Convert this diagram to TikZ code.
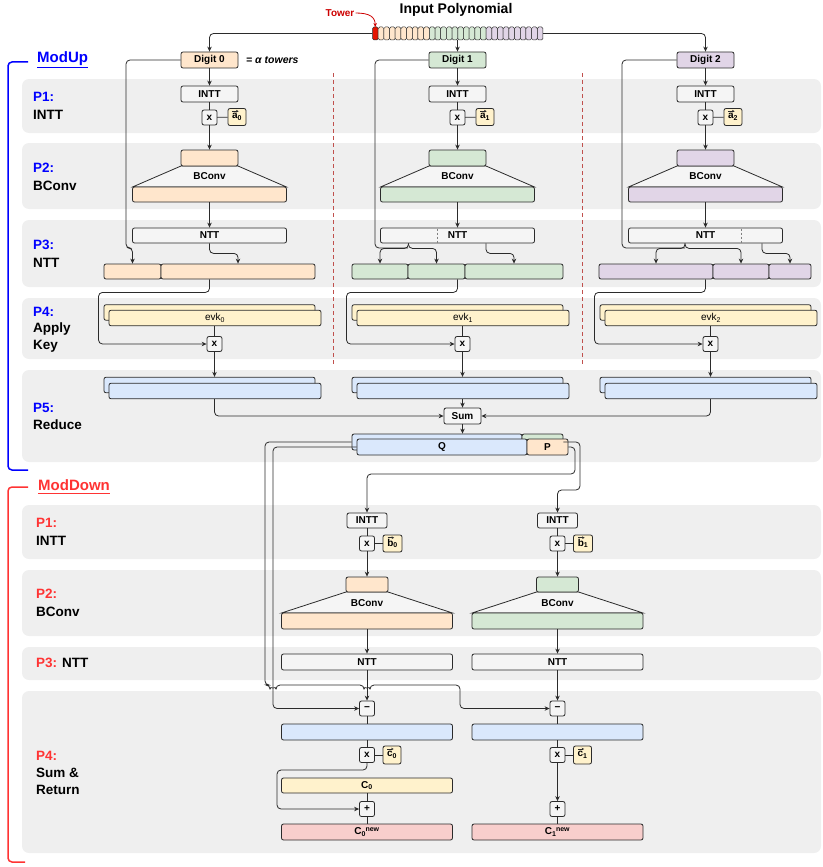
\documentclass[tikz,border=0pt]{standalone}
\usepackage{fontspec}
\usepackage{amsmath}
\setmainfont{Liberation Sans}
\usetikzlibrary{arrows.meta}
\definecolor{cor}{HTML}{FFE6CC}
\definecolor{cgr}{HTML}{D5E8D4}
\definecolor{cpu}{HTML}{E1D5E7}
\definecolor{ylw}{HTML}{FFF2CC}
\definecolor{blu}{HTML}{DAE8FC}
\definecolor{rdc}{HTML}{F8CECC}
\definecolor{boxw}{HTML}{F5F5F5}
\definecolor{bandc}{HTML}{EFEFEF}
\definecolor{strk}{HTML}{2B2B2B}
\definecolor{dred}{HTML}{C0504D}
\definecolor{mblue}{HTML}{0000FF}
\definecolor{mred}{HTML}{FF3333}
\definecolor{tred}{HTML}{E51400}
\definecolor{tlab}{HTML}{CC0000}
\tikzset{
 bx/.style={draw=strk, line width=0.8pt, rounded corners=2pt, inner sep=0pt, fill=boxw, font=\bfseries\fontsize{10}{11}\selectfont},
 op/.style={bx, minimum width=15pt, minimum height=15pt},
 arr/.style={draw=strk, line width=0.8pt, rounded corners=4pt, -{Stealth[length=5pt,width=4.5pt]}},
 ln/.style={draw=strk, line width=0.8pt, rounded corners=4pt},
 vecarr/.style={draw=strk, line width=0.6pt, -{Stealth[length=2.5pt,width=2.6pt]}},
 plab/.style={anchor=west, font=\bfseries\fontsize{13.5}{15}\selectfont, inner sep=0pt},
}
\begin{document}
\begin{tikzpicture}[x=1pt,y=-1pt]
\useasboundingbox (0,0) rectangle (822,867);
% bands
\foreach \a/\b in {79/133,143/209,220/287,298/359,370/462,505/559,570/636,647/680,691/853}
  \fill[bandc, rounded corners=7pt] (22,\a) rectangle (821,\b);
% brackets
\draw[mblue, line width=1.5pt, rounded corners=4pt] (28,62) -- (8,62) -- (8,470) -- (28,470);
\node[anchor=west, text=mblue, font=\bfseries\fontsize{15}{17}\selectfont, inner sep=0pt] (modup) at (37,60) {\underline{ModUp}};
\draw[mred, line width=1.5pt, rounded corners=4pt] (28,487) -- (8,487) -- (8,862) -- (25,862);
\node[anchor=west, text=mred, font=\bfseries\fontsize{15}{17}\selectfont, inner sep=0pt] (moddown) at (38,487) {\underline{ModDown}};
% phase labels
\node[plab, text=mblue] at (33,97) {P1:};
\node[plab] at (33,115) {INTT};
\node[plab, text=mblue] at (33,168) {P2:};
\node[plab] at (33,186) {BConv};
\node[plab, text=mblue] at (33,245) {P3:};
\node[plab] at (33,263) {NTT};
\node[plab, text=mblue] at (33,312) {P4:};
\node[plab] at (33,329) {Apply};
\node[plab] at (33,346) {Key};
\node[plab, text=mblue] at (33,408) {P5:};
\node[plab] at (33,425) {Reduce};
\node[plab, text=mred] at (36,523) {P1:};
\node[plab] at (36,541) {INTT};
\node[plab, text=mred] at (36,594) {P2:};
\node[plab] at (36,612) {BConv};
\node[plab] at (36,663) {\textcolor{mred}{P3:} NTT};
\node[plab, text=mred] at (36,756) {P4:};
\node[plab] at (36,773) {Sum \&};
\node[plab] at (36,790) {Return};
% dashed separators
\draw[dred, line width=1pt, dash pattern=on 4pt off 3pt] (333,73) -- (333,365);
\draw[dred, line width=1pt, dash pattern=on 4pt off 3pt] (582,73) -- (582,365);
% input polynomial
\node[font=\bfseries\fontsize{14}{16}\selectfont, inner sep=0pt] (title) at (456,10) {Input Polynomial};
\foreach \k in {0,...,29}{
  \ifnum\k=0 \def\cc{tred}\else\ifnum\k<10 \def\cc{cor}\else\ifnum\k<20 \def\cc{cgr}\else\def\cc{cpu}\fi\fi\fi
  \filldraw[draw=strk, line width=0.5pt, fill=\cc, rounded corners=1.5pt] (372.5+\k*5.683,27) rectangle ++(5.683,13);
}
\node[inner sep=0pt, minimum width=170.5pt, minimum height=13pt] (bar) at (457.75,33.5) {};
\coordinate (cell0) at (375.3,27);
\node[text=tlab, font=\bfseries\fontsize{10}{11}\selectfont, inner sep=1pt] (tw) at (340,13) {Tower};
\draw[tlab, line width=0.8pt, -{Stealth[length=4pt,width=3.5pt]}] (tw.east) .. controls (370,13) and (375,17) .. (cell0);
\node[anchor=west, font=\bfseries\itshape\fontsize{10.5}{12}\selectfont, inner sep=0pt] (alpha) at (246,60) {= α towers};
% ModUp columns
\foreach \c/\i/\col in {209.5/0/cor,457.5/1/cgr,705.5/2/cpu}{
  \node[bx,fill=\col,minimum width=57pt,minimum height=16pt] (d\i) at (\c,60) {Digit \i};
  \node[bx,minimum width=57pt,minimum height=16pt] (it\i) at (\c,94) {INTT};
  \node[op] (mx\i) at (\c,117.5) {x};
  \node[bx,fill=ylw,minimum width=18pt,minimum height=17pt] (a\i) at (\c+27.5,117) {\raisebox{-2.2pt}{a$_{\text{\i}}$}};
  \draw[vecarr] ([xshift=-4.8pt,yshift=5.8pt]a\i.center) -- ([xshift=1.6pt,yshift=5.8pt]a\i.center);
  \filldraw[draw=strk, line width=0.8pt, fill=boxw] (\c-28.5,166) -- (\c-77,187) -- (\c+77,187) -- (\c+28.5,166) -- cycle;
  \node[font=\bfseries\fontsize{10}{11}\selectfont] (bl\i) at (\c,176) {BConv};
  \node[bx,fill=\col,minimum width=57pt,minimum height=16pt] (bt\i) at (\c,158) {};
  \node[bx,fill=\col,minimum width=154pt,minimum height=15pt] (bb\i) at (\c,194.5) {};
  \node[bx,minimum width=154pt,minimum height=15pt] (nt\i) at (\c,235.5) {NTT};
  \node[bx,fill=ylw,minimum width=211pt,minimum height=15.5pt] (eb\i) at (\c,312.5) {};
  \node[bx,fill=ylw,minimum width=212pt,minimum height=15.5pt,font=\fontsize{10}{11}\selectfont] (ef\i) at (\c+5.5,318) {evk$_{\text{\i}}$};
  \node[op] (mk\i) at (\c+5,344) {x};
  \node[bx,fill=blu,minimum width=211pt,minimum height=15.5pt] (pb\i) at (\c,385) {};
  \node[bx,fill=blu,minimum width=212pt,minimum height=15.5pt] (pf\i) at (\c+5.5,391) {};
  \draw[arr] (d\i) -- (it\i);
  \draw[ln] (it\i) -- (mx\i);
  \draw[ln] (mx\i) -- (a\i);
  \draw[arr] (mx\i) -- (bt\i);
  \draw[arr] (bb\i) -- (nt\i);
  \draw[ln] (mk\i |- ef\i.south) -- (mk\i);
  \draw[arr] (mk\i) -- (mk\i |- pb\i.north);
}
% P3 outputs
\node[bx,fill=cor,minimum width=57pt,minimum height=15pt] (o01) at (132.5,271.5) {};
\node[bx,fill=cor,minimum width=154pt,minimum height=15pt] (o02) at (238,271.5) {};
\node[bx,fill=cgr,minimum width=56pt,minimum height=15pt] (o11) at (380,271.5) {};
\node[bx,fill=cgr,minimum width=57pt,minimum height=15pt] (o12) at (436.5,271.5) {};
\node[bx,fill=cgr,minimum width=98pt,minimum height=15pt] (o13) at (514,271.5) {};
\node[bx,fill=cpu,minimum width=114pt,minimum height=15pt] (o21) at (656,271.5) {};
\node[bx,fill=cpu,minimum width=56pt,minimum height=15pt] (o22) at (741,271.5) {};
\node[bx,fill=cpu,minimum width=42pt,minimum height=15pt] (o23) at (790,271.5) {};
\draw[gray, line width=0.8pt, dash pattern=on 2pt off 2pt] (437,228.5) -- (437,242.5);
\draw[gray, line width=0.8pt, dash pattern=on 2pt off 2pt] (741,228.5) -- (741,242.5);
% top connectors
\draw[arr] (bar.west) -| (d0.north);
\draw[arr] (bar.east) -| (d2.north);
\draw[arr] (bar.south -| d1) -- (d1.north);
% P3 connectors
\draw[arr] (d0.west) -| (126,248) -| (o01.north);
\draw[arr] (nt0.south) -- ++(0,10) -| (o02.north);
\draw[ln] (d1.west) -| (375,248) -- (408,248);
\draw[arr] (nt1.south -| o11.east) -- ++(0,5) -| (o11.north);
\draw[arr] (nt1.south -| o11.east) -- ++(0,5) -| (o12.north);
\draw[arr] (nt1.south -| o13.north) ++(-28,0) -- ++(0,10) -| (o13.north);
\draw[ln] (d2.west) -| (622,248) -- (685,248);
\draw[arr] (nt2.south -| o21.north) ++(29,0) -- ++(0,5) -| (o21.north);
\draw[arr] (nt2.south -| o21.north) ++(29,0) -- ++(0,5) -| (o22.north);
\draw[arr] (nt2.south -| o23.north) ++(-28,0) -- ++(0,10) -| (o23.north);
% P4 connectors
\draw[arr] (d0 |- o01.south) -- ++(0,13) -| (98.5,344) -- (mk0.west);
\draw[arr] (d1 |- o11.south) -- ++(0,13) -| (346.5,344) -- (mk1.west);
\draw[arr] (d2 |- o21.south) -- ++(0,13) -| (594.5,344) -- (mk2.west);
% Sum
\node[op, minimum width=37pt, minimum height=16pt] (sum) at (462.5,416) {Sum};
\draw[arr] (mk0 |- pf0.south) |- (sum.west);
\draw[arr] (mk1 |- pf1.south) -- (sum.north);
\draw[arr] (mk2 |- pf2.south) |- (sum.east);
% Q / P
\node[bx,fill=blu,minimum width=170pt,minimum height=16pt] (qb) at (437,442) {};
\node[bx,fill=cgr,minimum width=41pt,minimum height=16pt] (gb) at (542.5,442) {};
\node[bx,fill=blu,minimum width=170pt,minimum height=16pt] (qQ) at (442,447) {Q};
\node[bx,fill=cor,minimum width=41pt,minimum height=16pt] (qP) at (547.5,447) {P};
\draw[arr] (sum.south) -- (sum.south |- qb.north);
% ModDown columns
\foreach \x/\i/\col in {367/0/cor,557.5/1/cgr}{
  \node[bx,minimum width=40pt,minimum height=15pt] (dit\i) at (\x,520.5) {INTT};
  \node[op] (dmx\i) at (\x,543.5) {x};
  \node[bx,fill=ylw,minimum width=19pt,minimum height=17pt] (dbv\i) at (\x+25.5,543.5) {\raisebox{-2.2pt}{b$_{\text{\i}}$}};
  \draw[vecarr] ([xshift=-5pt,yshift=5.8pt]dbv\i.center) -- ([xshift=1.6pt,yshift=5.8pt]dbv\i.center);
  \filldraw[draw=strk, line width=0.8pt, fill=boxw] (\x-21,592) -- (\x-85.5,613) -- (\x+85.5,613) -- (\x+21,592) -- cycle;
  \node[font=\bfseries\fontsize{10}{11}\selectfont] (dbl\i) at (\x,603) {BConv};
  \node[bx,fill=\col,minimum width=42pt,minimum height=15pt] (dbt\i) at (\x,584.5) {};
  \node[bx,fill=\col,minimum width=171pt,minimum height=16pt] (dbb\i) at (\x,621) {};
  \node[bx,minimum width=171pt,minimum height=16pt] (dnt\i) at (\x,662) {NTT};
  \node[op] (dmn\i) at (\x,708.5) {−};
  \node[bx,fill=blu,minimum width=171pt,minimum height=16pt] (dblu\i) at (\x,732) {};
  \node[op] (dmc\i) at (\x,755) {x};
  \node[bx,fill=ylw,minimum width=18pt,minimum height=18pt] (dcv\i) at (\x+25,755) {\raisebox{-2.2pt}{c$_{\text{\i}}$}};
  \draw[vecarr] ([xshift=-4.6pt,yshift=6pt]dcv\i.center) -- ([xshift=1.6pt,yshift=6pt]dcv\i.center);
  \node[op] (dpl\i) at (\x,809) {+};
  \node[bx,fill=rdc,minimum width=171pt,minimum height=16pt] (dnew\i) at (\x,832) {C$_{\text{\i}}$\kern-0.5pt\textsuperscript{new}};
  \draw[ln] (dit\i) -- (dmx\i);
  \draw[ln] (dmx\i) -- (dbv\i);
  \draw[arr] (dmx\i) -- (dbt\i);
  \draw[arr] (dbb\i) -- (dnt\i);
  \draw[arr] (dnt\i) -- (dmn\i);
  \draw[ln] (dmn\i) -- (dblu\i);
  \draw[ln] (dblu\i) -- (dmc\i);
  \draw[ln] (dmc\i) -- (dcv\i);
  \draw[ln] (dpl\i) -- (dnew\i);
}
\node[bx,fill=ylw,minimum width=171pt,minimum height=15pt] (dC0) at (367,785.5) {C$_{\text{0}}$};
\draw[ln] (dC0) -- (dpl0);
\draw[arr] (dmc0.south) -- (367,770) -| (277,809) -- (dpl0.west);
\draw[arr] (dmc1) -- (dpl1);
% Q/P feed lines
\draw[arr] (qP.east) -| (575,474) -| (dit0.north);
\draw[arr] (gb.east) -| (580,490) -| (dit1.north);
\draw[arr] (qQ.west) -| (273,708.5) -- (dmn0.west);
\draw[arr] (qb.west) -| (265,685) -- (270,685) arc[start angle=180,end angle=0,radius=3] -- (364,685) arc[start angle=180,end angle=0,radius=3] -| (460,708.5) -- (dmn1.west);
\end{tikzpicture}
\end{document}
